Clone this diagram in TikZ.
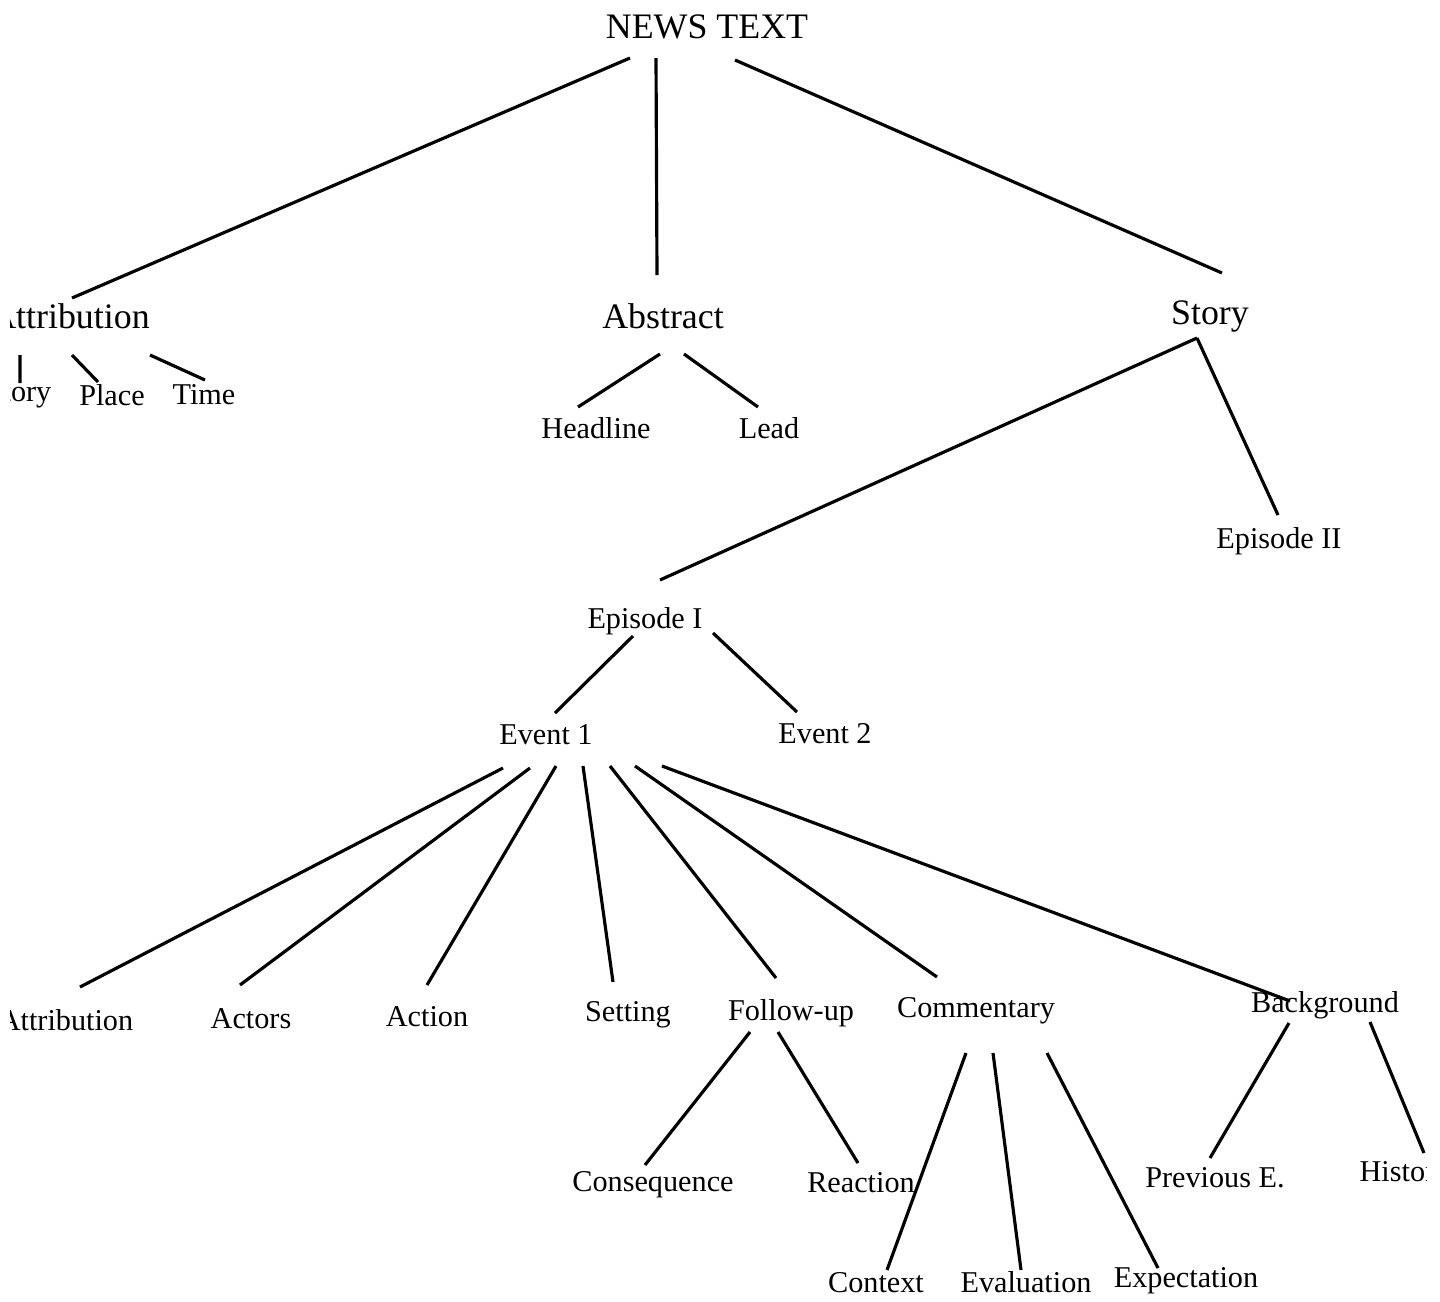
\documentclass[tikz,border=0pt]{standalone}
\usepackage{fontspec}
\setmainfont{Liberation Serif}

\tikzset{
	top/.style={font=\fontsize{10.2}{12}\selectfont},
	sub/.style={font=\fontsize{8.6}{10}\selectfont},
	branch/.style={line width=0.9pt}
}

\begin{document}
\begin{tikzpicture}
	
	% Page frame, the scan is cut at both sides
	\useasboundingbox (0,0) rectangle (14.40,-13.01);
	\clip (0.10,0) rectangle (14.26,-13.01);
	
	%% TOP LEVELS
	\node[top] (news)  at (7.07,-0.27) {NEWS TEXT};
	\node[top] (attr)  at (0.70,-3.16) {Attribution};
	\node[top] (abstr) at (6.63,-3.16) {Abstract};
	\node[top] (story) at (12.10,-3.16) {Story};
	
	% Attribution
	\node[sub] (hist1) at (0.06,-3.95) {History};
	\node[sub] (place) at (1.12,-3.95) {Place};
	\node[sub] (time)  at (2.04,-3.95) {Time};
	
	% Abstract
	\node[sub] (headline) at (5.96,-4.28) {Headline};
	\node[sub] (lead)     at (7.69,-4.28) {Lead};
	
	%% STORY
	\node[sub] (epII) at (12.79,-5.41) {Episode II};
	\node[sub] (epI)  at (6.45,-6.21) {Episode I};
	\node[sub] (ev1)  at (5.46,-7.35) {Event 1};
	\node[sub] (ev2)  at (8.25,-7.34) {Event 2};
	
	% Event categories
	\node[sub] (attr2)   at (0.66,-10.20) {Attribution};
	\node[sub] (actors)  at (2.51,-10.19) {Actors};
	\node[sub] (action)  at (4.27,-10.17) {Action};
	\node[sub] (setting) at (6.28,-10.15) {Setting};
	\node[sub] (follow)  at (7.91,-10.13) {Follow-up};
	\node[sub] (comment) at (9.76,-10.11) {Commentary};
	\node[sub] (backgr)  at (13.25,-10.05) {Background};
	
	% Lowest level
	\node[sub] (conseq)      at (6.53,-11.85) {Consequence};
	\node[sub] (reaction)    at (8.61,-11.83) {Reaction};
	\node[sub] (prevE)       at (12.15,-11.78) {Previous E.};
	\node[sub] (hist2)       at (14.05,-11.75) {History};
	\node[sub] (context)     at (8.76,-12.83) {Context};
	\node[sub] (evaluation)  at (10.26,-12.82) {Evaluation};
	\node[sub] (expectation) at (11.86,-12.81) {Expectation};
	
	%% BRANCHES
	% News text
	\draw[branch] ([shift={(-0.77,-0.31)}]news.center) -- ([shift={(0.02,0.18)}]attr.center);
	\draw[branch] ([shift={(-0.51,-0.31)}]news.center) -- ([shift={(-0.06,0.41)}]abstr.center);
	\draw[branch] ([shift={(0.28,-0.33)}]news.center) -- ([shift={(0.12,0.43)}]story.center);
	
	% Attribution
	\draw[branch] ([shift={(-0.50,-0.39)}]attr.center) -- ([shift={(0.14,0.12)}]hist1.center);
	\draw[branch] ([shift={(0.02,-0.39)}]attr.center) -- ([shift={(-0.14,0.13)}]place.center);
	\draw[branch] ([shift={(0.80,-0.39)}]attr.center) -- ([shift={(0.01,0.15)}]time.center);
	
	% Abstract
	\draw[branch] ([shift={(-0.03,-0.38)}]abstr.center) -- ([shift={(-0.18,0.21)}]headline.center);
	\draw[branch] ([shift={(0.21,-0.38)}]abstr.center) -- ([shift={(-0.11,0.21)}]lead.center);
	
	% Story and episodes
	\draw[branch] ([shift={(-0.13,-0.22)}]story.center) -- ([shift={(0.15,0.41)}]epI.center);
	\draw[branch] ([shift={(-0.13,-0.22)}]story.center) -- ([shift={(-0.01,0.26)}]epII.center);
	\draw[branch] ([shift={(-0.12,-0.15)}]epI.center) -- ([shift={(0.09,0.22)}]ev1.center);
	\draw[branch] ([shift={(0.68,-0.12)}]epI.center) -- ([shift={(-0.28,0.22)}]ev2.center);
	
	% Event 1
	\draw[branch] ([shift={(-0.43,-0.33)}]ev1.center) -- ([shift={(0.14,0.33)}]attr2.center);
	\draw[branch] ([shift={(-0.16,-0.33)}]ev1.center) -- ([shift={(-0.11,0.34)}]actors.center);
	\draw[branch] ([shift={(0.10,-0.31)}]ev1.center) -- ([shift={(0.00,0.32)}]action.center);
	\draw[branch] ([shift={(0.37,-0.31)}]ev1.center) -- ([shift={(-0.15,0.33)}]setting.center);
	\draw[branch] ([shift={(0.64,-0.31)}]ev1.center) -- ([shift={(-0.15,0.35)}]follow.center);
	\draw[branch] ([shift={(0.89,-0.31)}]ev1.center) -- ([shift={(-0.39,0.34)}]comment.center);
	\draw[branch] ([shift={(1.16,-0.31)}]ev1.center) -- ([shift={(-0.35,0.04)}]backgr.center);
	
	% Follow-up
	\draw[branch] ([shift={(-0.41,-0.19)}]follow.center) -- ([shift={(-0.08,0.20)}]conseq.center);
	\draw[branch] ([shift={(-0.13,-0.19)}]follow.center) -- ([shift={(-0.03,0.20)}]reaction.center);
	
	% Commentary
	\draw[branch] ([shift={(-0.10,-0.42)}]comment.center) -- ([shift={(0.11,0.13)}]context.center);
	\draw[branch] ([shift={(0.17,-0.42)}]comment.center) -- ([shift={(-0.05,0.12)}]evaluation.center);
	\draw[branch] ([shift={(0.71,-0.42)}]comment.center) -- ([shift={(-0.28,0.13)}]expectation.center);
	
	% Background
	\draw[branch] ([shift={(-0.36,-0.18)}]backgr.center) -- ([shift={(-0.05,0.20)}]prevE.center);
	\draw[branch] ([shift={(0.45,-0.17)}]backgr.center) -- ([shift={(0.19,0.22)}]hist2.center);
	
\end{tikzpicture}
\end{document}
